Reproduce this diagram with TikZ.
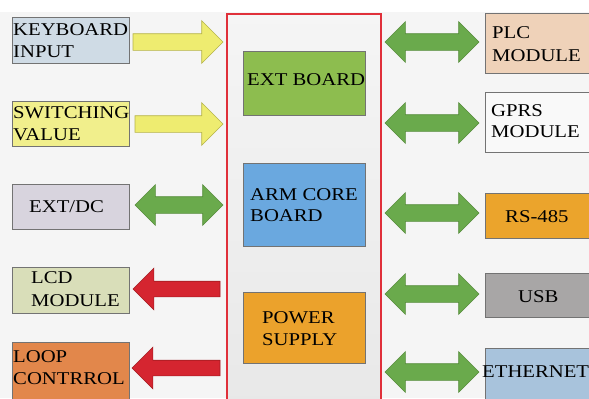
\documentclass[tikz,border=0pt]{standalone}
\usepackage{fontspec}
\setmainfont{Liberation Serif}[FakeStretch=1.15]
\usetikzlibrary{shapes.arrows,fit}
\definecolor{bgc}{HTML}{F5F5F5}
\definecolor{kbc}{HTML}{CFDBE5}
\definecolor{swc}{HTML}{F1EF8C}
\definecolor{edc}{HTML}{D8D4DE}
\definecolor{lcdc}{HTML}{D9DEB9}
\definecolor{loopc}{HTML}{E2874B}
\definecolor{extc}{HTML}{8DBD4F}
\definecolor{armc}{HTML}{6AA8DF}
\definecolor{pwrc}{HTML}{EBA22C}
\definecolor{plcc}{HTML}{EFD2B9}
\definecolor{gprsc}{HTML}{F9F9F9}
\definecolor{rsc}{HTML}{EBA42C}
\definecolor{usbc}{HTML}{A8A6A6}
\definecolor{ethc}{HTML}{A8C3DC}
\definecolor{yelf}{HTML}{EEEC70}
\definecolor{yeld}{HTML}{B5B34A}
\definecolor{grnf}{HTML}{6AAA4C}
\definecolor{grnd}{HTML}{578C3C}
\definecolor{redf}{HTML}{D52530}
\definecolor{redd}{HTML}{A31C22}
\definecolor{framec}{HTML}{E0303A}
\tikzset{
  box/.style={draw=black!55, line width=0.6bp, inner sep=0pt},
  txt/.style={anchor=base west, inner sep=0pt, font=\fontsize{18bp}{22bp}\selectfont},
  yarrow/.style={single arrow, draw=yeld, fill=yelf, line width=0.6bp, inner sep=8bp,
    single arrow head extend=13bp, outer sep=0pt, anchor=tail},
  rarrow/.style={single arrow, draw=redd, fill=redf, line width=0.6bp, inner sep=7.5bp,
    single arrow head extend=13bp, shape border rotate=180, outer sep=0pt, anchor=tail},
  garrow/.style={double arrow, draw=grnd, fill=grnf, line width=0.6bp, inner sep=8bp,
    double arrow head extend=12bp, outer sep=0pt},
}
\begin{document}
\begin{tikzpicture}[x=1bp,y=-1bp]
\clip (0,0) rectangle (589,398);
\fill[white] (0,0) rectangle (589,398);
\fill[bgc] (0,12) rectangle (589,398);
% frame
\shade[top color=white!96!black, bottom color=white!91!black] (227,14) rectangle (381,410);
\draw[framec, line width=1.8bp] (227,14) rectangle (381,410);
% left boxes
\node[box, fill=kbc, fit={(12,17) (129,63)}] (kb) {};
\node[box, fill=swc, fit={(12,101) (129,146)}] (sw) {};
\node[box, fill=edc, fit={(12,184) (129,229)}] (edc) {};
\node[box, fill=lcdc, fit={(12,267) (129,313)}] (lcd) {};
\node[box, fill=loopc, fit={(12,342) (129,400)}] (loop) {};
% center boxes
\node[box, fill=extc, fit={(243,51) (365,115)}] (ext) {};
\node[box, fill=armc, fit={(243,163) (365,246)}] (arm) {};
\node[box, fill=pwrc, fit={(243,292) (365,363)}] (pwr) {};
% right boxes
\node[box, fill=plcc, fit={(485,13) (600,73)}] (plc) {};
\node[box, fill=gprsc, fit={(485,92) (600,152)}] (gprs) {};
\node[box, fill=rsc, fit={(485,193) (600,238)}] (rs) {};
\node[box, fill=usbc, fit={(485,273) (600,317)}] (usb) {};
\node[box, fill=ethc, fit={(485,348) (600,402)}] (eth) {};
% arrows left
\node[yarrow, minimum height=90bp] (a1) at (133,42) {};
\node[yarrow, minimum height=88bp] (a2) at (135,124) {};
\node[garrow, minimum height=88bp] (a3) at (179,205) {};
\node[rarrow, minimum height=87bp] (a4) at (220,289) {};
\node[rarrow, minimum height=88bp] (a5) at (220,368) {};
% arrows right
\node[garrow, minimum height=94bp] (b1) at (432,42) {};
\node[garrow, minimum height=94bp] (b2) at (432,123) {};
\node[garrow, minimum height=94bp] (b3) at (432,213) {};
\node[garrow, minimum height=94bp] (b4) at (432,294) {};
\node[garrow, minimum height=94bp] (b5) at (432,372) {};
% texts
\node[txt] (t1a) at (13,35) {KEYBOARD};
\node[txt] (t1b) at (13,57) {INPUT};
\node[txt] (t2a) at (13,118) {SWITCHING};
\node[txt] (t2b) at (13,140) {VALUE};
\node[txt] (t3) at (29,212) {EXT/DC};
\node[txt] (t4a) at (31,283) {LCD};
\node[txt] (t4b) at (31,306) {MODULE};
\node[txt] (t5a) at (13,362) {LOOP};
\node[txt] (t5b) at (13,384) {CONTRROL};
\node[txt] (t6) at (247,85) {EXT BOARD};
\node[txt] (t7a) at (250,200) {ARM CORE};
\node[txt] (t7b) at (250,221) {BOARD};
\node[txt] (t8a) at (262,323) {POWER};
\node[txt] (t8b) at (262,345) {SUPPLY};
\node[txt] (t9a) at (492,38) {PLC};
\node[txt] (t9b) at (492,61) {MODULE};
\node[txt] (t10a) at (491,116) {GPRS};
\node[txt] (t10b) at (491,137) {MODULE};
\node[txt] (t11) at (505,222) {RS-485};
\node[txt] (t12) at (518,302) {USB};
\node[txt] (t13) at (482,377) {ETHERNET};
\end{tikzpicture}
\end{document}
